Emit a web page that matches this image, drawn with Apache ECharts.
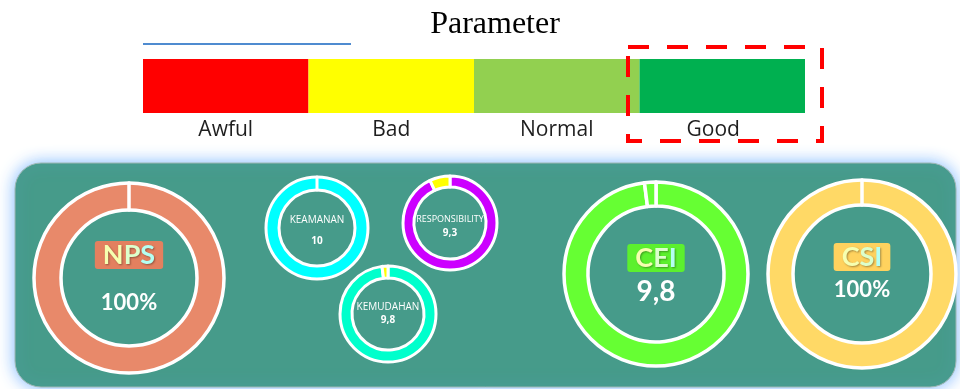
<!DOCTYPE html>
<html>
<head>
<meta charset="utf-8">
<title>Parameter</title>
<script src="https://cdn.jsdelivr.net/npm/echarts@6/dist/echarts.min.js"></script>
<style>
  html, body { margin: 0; padding: 0; background: #ffffff; }
  #chart { width: 960px; height: 389px; }
</style>
</head>
<body>
<div id="chart"></div>
<script>
// Rating scale
const scaleCategories = ['Awful', 'Bad', 'Normal', 'Good'];
const scaleValues = [1, 1, 1, 1];
const scaleColors = ['#FF0000', '#FFFF00', '#92D050', '#00B050'];

// Indicator gauges: name, score, maximum, whether shown as percent
const gaugeNames = ['NPS', 'KEAMANAN', 'RESPONSIBILITY', 'KEMUDAHAN', 'CEI', 'CSI'];
const gaugeScores = [100, 10, 9.3, 9.8, 9.8, 100];
const gaugeMax = [100, 10, 10, 10, 10, 100];
const gaugePercent = [true, false, false, false, false, true];

// Styling for each gauge
const gaugeStyles = [
  { center: [129, 278], radius: [68, 95], color: '#E8896A', rest: '#E8896A', big: true, boxColor: '#E3805F', valueY: 303, boxY: 255 },
  { center: [317, 228], radius: [38, 51], color: '#00FFFF', rest: '#00FFFF', big: false, nameY: 220, valueY: 241 },
  { center: [450, 223], radius: [36, 47], color: '#CC00FF', rest: '#FFFF00', big: false, nameY: 219, valueY: 233 },
  { center: [388, 314], radius: [36, 48], color: '#00FFCC', rest: '#FFFF00', big: false, nameY: 307, valueY: 320 },
  { center: [656, 274], radius: [68, 92], color: '#66FF33', rest: '#66FF33', big: true, boxColor: '#5CF02E', valueY: 292, boxY: 258, valueSize: 28 },
  { center: [862, 274], radius: [69, 94], color: '#FFD966', rest: '#FFD966', big: true, boxColor: '#FFD25E', valueY: 290, boxY: 257 }
];

function formatScore(i) {
  const txt = String(gaugeScores[i]).replace('.', ',');
  return gaugePercent[i] ? txt + '%' : txt;
}

const chart = echarts.init(document.getElementById('chart'), null, { renderer: 'canvas' });

const series = [];
// Rating scale as a single row of equal bars
series.push({
  type: 'bar',
  xAxisIndex: 0,
  yAxisIndex: 0,
  barCategoryGap: 0,
  silent: true,
  data: scaleValues.map((v, i) => ({ value: v, itemStyle: { color: scaleColors[i] } }))
});

// Donut gauges
gaugeNames.forEach((name, i) => {
  const st = gaugeStyles[i];
  series.push({
    type: 'pie',
    name: name,
    center: st.center,
    radius: st.radius,
    startAngle: 90,
    clockwise: true,
    silent: true,
    z: 5,
    label: { show: false },
    labelLine: { show: false },
    itemStyle: { borderColor: '#FFFFFF', borderWidth: st.big ? 3.5 : 3 },
    data: [
      { value: gaugeScores[i], name: name, itemStyle: { color: st.color } },
      { value: +(gaugeMax[i] - gaugeScores[i]).toFixed(2), name: 'rest', itemStyle: { color: st.rest } }
    ]
  });
});

// Text in the middle of each donut
const textEls = [];
const boxFont = 'bold 27px Lato, "Open Sans", sans-serif';
const letterRich = {
  a: { fill: '#F6FFB0', font: boxFont },
  b: { fill: '#DCFFCC', font: boxFont },
  c: { fill: '#B4FFF2', font: boxFont }
};
gaugeNames.forEach((name, i) => {
  const st = gaugeStyles[i];
  const cx = st.center[0];
  if (st.big) {
    const keys = ['a', 'b', 'c'];
    const richText = name.split('').map((ch, k) => '{' + keys[Math.min(k, 2)] + '|' + ch + '}').join('');
    textEls.push({
      type: 'text',
      z: 100,
      x: cx,
      y: st.boxY,
      style: {
        text: richText,
        rich: letterRich,
        align: 'center',
        verticalAlign: 'middle',
        backgroundColor: st.boxColor,
        borderRadius: 3,
        padding: [1, 8, 0, 8],
        textShadowColor: 'rgba(0,0,0,0.35)',
        textShadowBlur: 2,
        textShadowOffsetX: 1,
        textShadowOffsetY: 1
      }
    });
    textEls.push({
      type: 'text',
      z: 100,
      x: cx,
      y: st.valueY,
      style: {
        text: formatScore(i),
        fill: '#FFFFFF',
        font: 'bold ' + (st.valueSize || 22) + 'px Lato, "Open Sans", sans-serif',
        align: 'center',
        verticalAlign: 'middle'
      }
    });
  } else {
    textEls.push({
      type: 'text',
      z: 100,
      x: cx,
      y: st.nameY,
      style: {
        text: name,
        fill: '#FFFFFF',
        font: (name.length > 10 ? '9px' : '10px') + ' "Open Sans", sans-serif',
        align: 'center',
        verticalAlign: 'middle'
      }
    });
    textEls.push({
      type: 'text',
      z: 100,
      x: cx,
      y: st.valueY,
      style: {
        text: formatScore(i),
        fill: '#FFFFFF',
        font: 'bold 10px "Open Sans", sans-serif',
        align: 'center',
        verticalAlign: 'middle'
      }
    });
  }
});

const option = {
  animation: false,
  title: {
    text: 'Parameter',
    left: 490,
    top: 4,
    textAlign: 'center',
    textStyle: {
      fontFamily: '"Liberation Serif", "Times New Roman", serif',
      fontWeight: 'normal',
      fontSize: 32,
      color: '#000000'
    }
  },
  grid: { left: 143, right: 155, top: 59, height: 54, containLabel: false },
  xAxis: {
    type: 'category',
    data: scaleCategories.map((c, i) => i === 3
      ? { value: c, textStyle: { padding: [0, 18, 0, 0] } }
      : { value: c }),
    axisLine: { show: false },
    axisTick: { show: false },
    splitLine: { show: false },
    axisLabel: {
      color: '#1E1E1E',
      fontFamily: '"Open Sans", sans-serif',
      fontSize: 21,
      margin: 7
    }
  },
  yAxis: { type: 'value', min: 0, max: 1, show: false },
  series: series,
  graphic: [
    // thin blue rule under the title
    { type: 'line', z: 1, shape: { x1: 143, y1: 44, x2: 351, y2: 44 }, style: { stroke: '#1565C0', lineWidth: 1.5 } },
    // dashed highlight around "Good"
    { type: 'rect', z: 10, shape: { x: 628, y: 47, width: 194, height: 94 },
      style: { fill: 'none', stroke: '#FF0000', lineWidth: 4, lineDash: [21, 18] } },
    // teal panel holding the gauges
    { type: 'rect', z: -10, shape: { x: 15, y: 163, width: 941, height: 224, r: 26 },
      style: { fill: '#469B8A', stroke: '#9FB8B4', lineWidth: 1, shadowBlur: 16, shadowColor: 'rgba(110,175,255,0.9)' } }
  ].concat(textEls)
};

chart.setOption(option);
</script>
</body>
</html>
